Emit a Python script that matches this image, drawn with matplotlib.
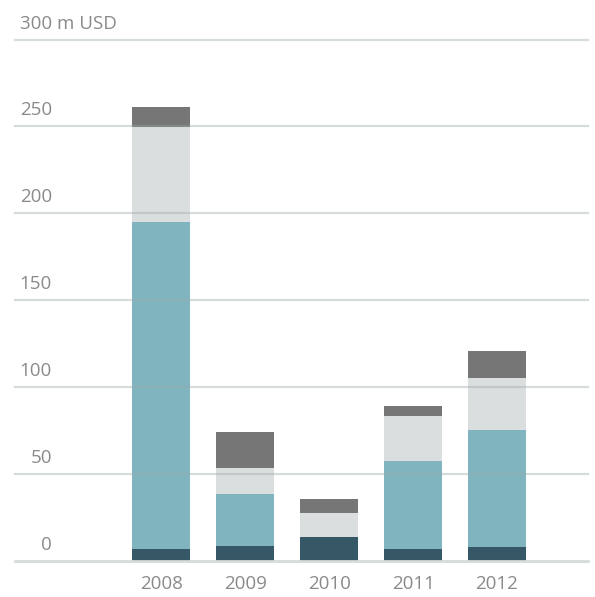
import matplotlib
matplotlib.use("Agg")
import matplotlib.pyplot as plt
import numpy as np

years = ["2008", "2009", "2010", "2011", "2012"]
dark = [6.6, 8.3, 13.5, 6.6, 7.8]
teal = [188.2, 30.0, 0.0, 50.6, 67.3]
light = [54.8, 14.9, 13.8, 25.9, 29.9]
gray = [11.4, 20.7, 8.1, 5.8, 15.5]
yticks = [0, 50, 100, 150, 200, 250, 300]
unit = "m USD"

colors = ["#365866", "#80b5bf", "#dadedf", "#767676"]
txt_color = "#8a8a8a"

plt.rcParams['font.family'] = ['Open Sans', 'DejaVu Sans']

fig = plt.figure(figsize=(5.95, 5.97), dpi=100)
W, H = 595, 597
ax = fig.add_axes([15 / W, (H - 560.5) / H, 573 / W, (560.5 - 39.5) / H])

x = np.arange(len(years))
bottom = np.zeros(len(years))
for vals, c in zip([dark, teal, light, gray], colors):
    ax.bar(x, vals, width=0.69, bottom=bottom, color=c, zorder=2, linewidth=0)
    bottom += np.array(vals)

ax.set_xlim(-1.745, 5.085)
ax.set_ylim(0, 300)
for s in ax.spines.values():
    s.set_visible(False)
ax.set_xticks([])
ax.set_yticks([])

fs = 13.5
for v in yticks:
    if v == 0:
        ax.axhline(v, color="#d6dbdb", lw=2.0, zorder=3, clip_on=False)
    else:
        ax.axhline(v, color="#9aa8a8", alpha=0.4, lw=1.6, zorder=3, clip_on=False)
    label = f"{v}" if v != 300 else f"{v} {unit}"
    if v == 300:
        ax.annotate(label, xy=(0, v), xycoords=("axes fraction", "data"),
                    xytext=(3.3, 5), textcoords="offset points",
                    ha="left", va="bottom", color=txt_color, fontsize=fs)
    else:
        ax.annotate(label, xy=(-1.304, v), xycoords="data",
                    xytext=(0, 5), textcoords="offset points",
                    ha="right", va="bottom", color=txt_color, fontsize=fs)

for xi, yr in zip(x, years):
    ax.annotate(yr, xy=(xi, 0), xycoords="data", xytext=(0, -10.5),
                textcoords="offset points", ha="center", va="top",
                color=txt_color, fontsize=fs)

fig.savefig("out.png", dpi=100)
